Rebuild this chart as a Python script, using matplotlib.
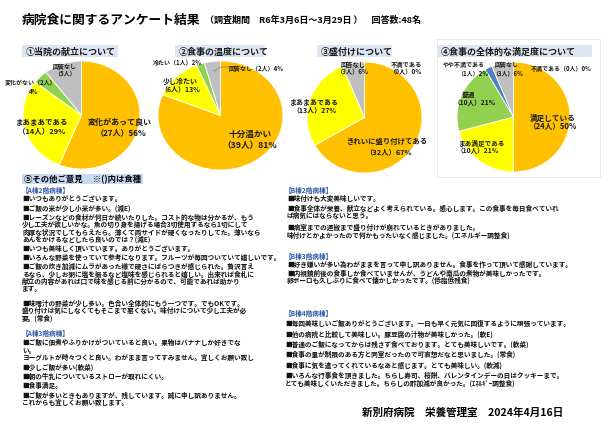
import matplotlib.pyplot as plt
from matplotlib.patches import Rectangle

plt.rcParams['font.family'] = ['Noto Sans CJK JP', 'DejaVu Sans']

W, H = 611, 435
ORANGE, YELLOW, GREEN, GRAY, BLUE = '#FFC000', '#FFFF00', '#92D050', '#BFBFBF', '#4F81BD'
BOX_BG = '#DCE6F2'
HEAD_BLUE = '#2F5AA8'

# ---- survey data (48 answers) ----
menu_counts = [27, 14, 2, 5]
menu_colors = [ORANGE, YELLOW, GREEN, GRAY]
temp_counts = [39, 6, 1, 2]
temp_colors = [ORANGE, YELLOW, GREEN, GRAY]
plate_counts = [32, 13, 3, 0]
plate_colors = [ORANGE, YELLOW, GRAY, BLUE]
total_counts = [24, 10, 10, 1, 3, 0]
total_colors = [ORANGE, YELLOW, GREEN, BLUE, GRAY, '#C00000']

panel_titles = ['①当院の献立について', '②食事の温度について', '③盛付けについて',
                '④食事の全体的な満足度について']

# pie labels: (text, x, y, size)
menu_labels = [('変化があって良い', 120, 122, 5.8), ('（27人）56%', 121, 133, 5.8),
               ('まあまあである', 42, 122, 5.4), ('（14人）29%', 42, 132, 5.4),
               ('変化がない（2人）', 31, 83, 4.3), ('4%', 34, 91, 4.3),
               ('回答なし', 65, 66, 4.3), ('（5人）', 65, 73, 4.3)]
temp_labels = [('冷たい（1人）2%', 177, 63, 4.3), ('少し冷たい', 180, 81, 5.0),
               ('（6人）13%', 180, 89, 5.0), ('回答なし（2人）4%', 256, 68, 4.3),
               ('十分温かい', 250, 134, 6.2), ('（39人）81%', 250, 146, 6.2)]
plate_labels = [('回答なし', 353, 64, 4.5), ('（3人）6%', 353, 72, 4.5),
                ('不満である', 406, 64, 4.5), ('（0人）0%', 406, 72, 4.5),
                ('まあまあである', 314, 102, 5.0), ('（13人）27%', 314, 110, 5.0),
                ('きれいに盛り付けてある', 388, 141, 5.3), ('（32人）67%', 388, 153, 5.3)]
total_labels = [('やや不満である', 464, 65, 4.3), ('（1人）2%', 473, 73, 4.3),
                ('回答なし', 507, 65, 4.3), ('（3人）6%', 507, 73, 4.3),
                ('不満である（0人）0%', 561, 68, 4.3),
                ('普通', 468, 94, 4.8), ('（10人）21%', 475, 102, 4.8),
                ('まあ満足である', 482, 143, 4.8), ('（10人）21%', 478, 151, 4.8),
                ('満足している', 553, 118, 5.5), ('（24人）50%', 553, 127, 5.5)]

a2_lines = ['【A棟2階病棟】',
            '■いつもありがとうございます。',
            '■ご飯の米が少し小米が多い。(減E)',
            '■レーズンなどの食材が何日か続いたりした。コスト的な物は分かるが、もう',
            '少し工夫が欲しいかな。魚の切り身を揚げる場合3切使用するなら1切にして',
            '肉厚な状況でしてもらえたら。薄くて両サイドが硬くなったりしてた。薄いなら',
            'あんをかけるなどしたら良いのでは？(減E)',
            '■いつも美味しく頂いています。ありがとうございます。',
            '■いろんな野菜を使っていて参考になります。フルーツが毎回ついていて嬉しいです。',
            '■ご飯の炊き加減にムラがあった様で硬さにばらつきが感じられた。贅沢言え',
            'るなら、少しお粥に塩を振るなど塩味を感じられると嬉しい。出来れば食札に',
            '献立の内容があれば口で味を感じる前に分かるので、可能であれば助かり',
            'ます。',
            '',
            '■味噌汁の野菜が少し多い。色合い全体的にもう一つです。でもOKです。',
            '盛り付けは気にしなくてもそこまで悪くない。味付けについて少し工夫が必',
            '要。(常食)']
a3_lines = ['【A棟3階病棟】',
            '■ご飯に佃煮やふりかけがついていると良い。果物はバナナしか好きでな',
            'い。',
            'ヨーグルトが時々つくと良い。わがまま言ってすみません。宜しくお願い致し',
            '■少しご飯が多い(軟菜)',
            '■朝の牛乳についているストローが取れにくい。',
            '■食事満足。',
            '■ご飯が多いときもありますが、残しています。誠に申し訳ありません。',
            'これからも宜しくお願い致します。']
b2_lines = ['【B棟2階病棟】',
            '■味付けも大変美味しいです。',
            '■食事全体が栄養、献立などよく考えられている。感心します。この食事を毎日食べていれ',
            'ば病気にはならないと思う。',
            '',
            '■病室までの運搬まで盛り付けが崩れているときがありました。',
            '味付けとかよかったので何かもったいなく感じました。(エネルギー調整食)']
b3_lines = ['【B棟3階病棟】',
            '■好き嫌いが多い為わがままを言って申し訳ありません。食事を作って頂いて感謝しています。',
            '■内視鏡前後の食事しか食べていませんが、うどんや南瓜の煮物が美味しかったです。',
            '卵ボーロも久しぶりに食べて懐かしかったです。(低脂低残食)']
b4_lines = ['【B棟4階病棟】',
            '■毎回美味しいご飯ありがとうございます。一日も早く元気に回復するように頑張っています。',
            '■他の病院と比較して美味しい。豚豆腐の汁物が美味しかった。(軟E)',
            '■普通のご飯になってからは残さず食べております。とても美味しいです。(軟菜)',
            '■食事の量が制限のある方と同室だったので可哀想だなと思いました。(常食)',
            '■食事に気を遣ってくれているなあと感じます。とても美味しい。(軟減)',
            '■いろんな行事食を頂きました。ちらし寿司、桜餅、バレンタインデーの日はクッキーまで。',
            'とても美味しくいただきました。ちらしの酢加減が良かった。(ｴﾈﾙｷﾞｰ調整食)']

fig = plt.figure(figsize=(W / 100, H / 100), dpi=100)


def draw_pie(counts, colors, x0, y0, x1, y1):
    ax = fig.add_axes([x0 / W, 1 - y1 / H, (x1 - x0) / W, (y1 - y0) / H])
    vals = [c for c in counts if c > 0]
    cols = [col for c, col in zip(counts, colors) if c > 0]
    ax.pie(vals, colors=cols, startangle=90, counterclock=False,
           wedgeprops=dict(edgecolor='white', linewidth=0.6))
    ax.set_aspect('auto')
    ax.set_xlim(-1, 1)
    ax.set_ylim(-1, 1)
    ax.axis('off')


draw_pie(menu_counts, menu_colors, 23, 62, 140, 170)
draw_pie(temp_counts, temp_colors, 158, 62, 283, 171)
draw_pie(plate_counts, plate_colors, 307, 63, 422, 174)
draw_pie(total_counts, total_colors, 457, 63, 570, 173)

# overlay in pixel coordinates
ov = fig.add_axes([0, 0, 1, 1])
ov.set_xlim(0, W)
ov.set_ylim(H, 0)
ov.axis('off')
ov.patch.set_alpha(0)

# light frame round panel 4
ov.add_patch(Rectangle((437, 40), 163, 138, fill=False, edgecolor='#E4E4E4', linewidth=0.6))

title = ov.text(22, 20, '病院食に関するアンケート結果', fontsize=9.2, fontweight='bold', va='center')
ov.annotate('（調査期間　R6年3月6日～3月29日 ）　回答数:48名', xy=(1, 0.45), xycoords=title,
            xytext=(3, 0), textcoords='offset points', fontsize=6.5, fontweight='bold',
            va='center')

# panel title boxes
title_boxes = [(22, 118), (175, 265), (317, 392), (437, 592)]
title_y = [52, 52, 52, 52]
for (bx0, bx1), ty, txt in zip(title_boxes, title_y, panel_titles):
    ov.add_patch(Rectangle((bx0, ty - 6), bx1 - bx0, 12, facecolor=BOX_BG, edgecolor='none'))
    ov.text(bx0 + 4, ty, txt, fontsize=6.5, fontweight='bold', va='center', color='#1A1A1A')

for labels in (menu_labels, temp_labels, plate_labels, total_labels):
    for txt, x, y, fs in labels:
        ov.text(x, y, txt, fontsize=fs, fontweight='bold', ha='center', va='center', color='#1A1A1A')

# leader line for 回答なし in panel 2
ov.plot([214, 221, 229], [72, 68, 68], color='#7F7F7F', linewidth=0.5)

# comments section
ov.add_patch(Rectangle((22, 175), 121, 10, facecolor='#C6D9F1', edgecolor='none'))
ov.text(24, 180, '⑤その他ご意見　 ※()内は食種', fontsize=6, fontweight='bold', va='center')


def draw_block(lines, x, y, step_item, step_cont, indent=0, gap=5):
    for i, txt in enumerate(lines):
        if i > 0:
            if txt == '':
                y += gap
                continue
            y += step_item if txt.startswith('■') else step_cont
        if txt.startswith('【'):
            ov.text(x, y, txt, fontsize=4.8, fontweight='bold', va='center', color=HEAD_BLUE)
        else:
            ov.text(x + indent, y, txt, fontsize=4.8, fontweight='bold', va='center', color='#111111')


draw_block(a2_lines, 22, 190, 9, 7.5)
draw_block(a3_lines, 22, 333, 9.3, 7.8)
draw_block(b2_lines, 285, 190, 9, 7.6, indent=2, gap=3)
draw_block(b3_lines, 285, 256, 8.6, 7.5, indent=2)
draw_block(b4_lines, 285, 313, 10.4, 8)

ov.text(362, 413, '新別府病院　栄養管理室　2024年4月16日', fontsize=7.6, fontweight='bold', va='center')

fig.savefig('out.png', dpi=100)
